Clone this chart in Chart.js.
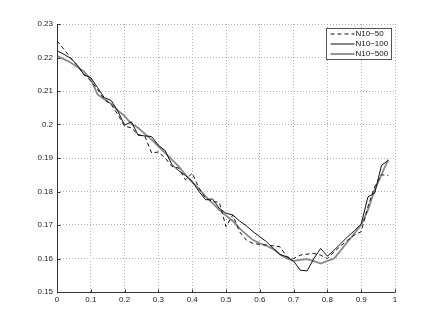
<!DOCTYPE html>
<html>
<head>
<meta charset="utf-8">
<script src="https://cdn.jsdelivr.net/npm/chart.js@4/dist/chart.umd.min.js"></script>
<style>
  html, body { margin: 0; padding: 0; background: #fff; }
  #wrap { width: 436px; height: 328px; }
</style>
</head>
<body>
<div id="wrap"><canvas id="c"></canvas></div>
<script>
// x positions (0 .. 0.98 step 0.02)
const xs = [0,0.02,0.04,0.06,0.08,0.10,0.12,0.14,0.16,0.18,0.20,0.22,0.24,0.26,0.28,0.30,0.32,0.34,0.36,0.38,
  0.40,0.42,0.44,0.46,0.48,0.50,0.52,0.54,0.56,0.58,0.60,0.62,0.64,0.66,0.68,0.70,0.72,0.74,0.76,0.78,
  0.80,0.82,0.84,0.86,0.88,0.90,0.92,0.94,0.96,0.98];

const n50 = [0.2250,0.2225,0.2200,0.2175,0.2150,0.2130,0.2105,0.2075,0.2060,0.2030,0.1995,0.1990,0.1970,0.1965,0.1915,0.1918,0.1900,0.1875,0.1870,0.1835,
  0.1855,0.1810,0.1780,0.1770,0.1768,0.1695,0.1730,0.1680,0.1655,0.1645,0.1642,0.1640,0.1638,0.1635,0.1605,0.1600,0.1610,0.1613,0.1615,0.1610,
  0.1600,0.1620,0.1638,0.1655,0.1670,0.1680,0.1755,0.1815,0.1850,0.1848];

const n100 = [0.2220,0.2210,0.2198,0.2178,0.2148,0.2140,0.2110,0.2080,0.2072,0.2040,0.1998,0.2008,0.1968,0.1966,0.1964,0.1938,0.1922,0.1880,0.1862,0.1848,
  0.1830,0.1800,0.1775,0.1778,0.1750,0.1735,0.1730,0.1712,0.1698,0.1680,0.1665,0.1650,0.1630,0.1612,0.1605,0.1592,0.1565,0.1563,0.1600,0.1630,
  0.1607,0.1625,0.1645,0.1665,0.1683,0.1703,0.1784,0.1795,0.1878,0.1893];

const n500 = [0.2205,0.2195,0.2185,0.2172,0.2158,0.2135,0.2090,0.2075,0.2062,0.2042,0.2025,0.2002,0.1990,0.1972,0.1955,0.1935,0.1915,0.1895,0.1875,0.1850,
  0.1828,0.1808,0.1785,0.1765,0.1745,0.1728,0.1712,0.1690,0.1672,0.1655,0.1645,0.1638,0.1628,0.1612,0.1600,0.1593,0.1596,0.1598,0.1592,0.1585,
  0.1593,0.1600,0.1625,0.1650,0.1675,0.1700,0.1745,0.1805,0.1850,0.1895];

const seriesNames = ['N10\u221250', 'N10\u2212100', 'N10\u2212500'];
const xTicks = [0,0.1,0.2,0.3,0.4,0.5,0.6,0.7,0.8,0.9,1];
const yTicks = [0.15,0.16,0.17,0.18,0.19,0.2,0.21,0.22,0.23];

const pts = arr => arr.map((y,i)=>({x: xs[i], y}));
const fmt = v => String(Number(v.toFixed(2)));
const FONT = {family: '"Liberation Sans", Arial, sans-serif', size: 8};

// inward tick marks, solid left/bottom axis, legend box (matlab look)
const matlabBits = {
  id: 'matlabBits',
  afterDraw(chart){
    const {ctx, chartArea: a, scales} = chart;
    ctx.save();
    ctx.strokeStyle = '#333';
    ctx.lineWidth = 1;
    ctx.setLineDash([]);
    ctx.beginPath();
    const L = Math.round(a.left) + 0.5, B = Math.round(a.bottom) + 0.5;
    ctx.moveTo(L, a.top); ctx.lineTo(L, B); ctx.lineTo(a.right, B);
    xTicks.forEach(v=>{
      const px = Math.round(scales.x.getPixelForValue(v)) + 0.5;
      ctx.moveTo(px, B); ctx.lineTo(px, B - 3);
    });
    yTicks.forEach(v=>{
      const py = Math.round(scales.y.getPixelForValue(v)) + 0.5;
      ctx.moveTo(L, py); ctx.lineTo(L + 3, py);
    });
    ctx.stroke();

    // legend
    const bx = 326.5, by = 28.5, bw = 65, bh = 31;
    ctx.fillStyle = '#fff';
    ctx.fillRect(bx, by, bw, bh);
    ctx.strokeStyle = '#555';
    ctx.strokeRect(bx, by, bw, bh);
    ctx.font = '8px "Liberation Sans", Arial, sans-serif';
    ctx.textBaseline = 'middle';
    chart.data.datasets.forEach((ds, i)=>{
      const y = by + 5.5 + i * 10;
      ctx.beginPath();
      ctx.strokeStyle = ds.borderColor;
      ctx.lineWidth = ds.borderWidth;
      ctx.setLineDash(ds.borderDash || []);
      ctx.moveTo(bx + 4, y); ctx.lineTo(bx + 28, y);
      ctx.stroke();
      ctx.setLineDash([]);
      ctx.fillStyle = '#111';
      ctx.fillText(ds.label, bx + 29, y);
    });
    ctx.restore();
  }
};

new Chart(document.getElementById('c'), {
  type: 'line',
  data: {
    datasets: [
      { label: seriesNames[0], data: pts(n50), borderColor: '#111', borderWidth: 1, borderDash: [4,3] },
      { label: seriesNames[1], data: pts(n100), borderColor: '#111', borderWidth: 1 },
      { label: seriesNames[2], data: pts(n500), borderColor: '#8a8a8a', borderWidth: 1.8 }
    ]
  },
  options: {
    responsive: true,
    maintainAspectRatio: false,
    animation: false,
    elements: { point: { radius: 0 }, line: { tension: 0 } },
    layout: { padding: { top: 24, right: 41, left: 0, bottom: 0 } },
    plugins: { legend: { display: false }, tooltip: { enabled: false } },
    scales: {
      x: {
        type: 'linear', min: 0, max: 1,
        afterBuildTicks: s => { s.ticks = xTicks.map(v=>({value: v})); },
        afterFit: s => { s.height = 36; },
        ticks: { font: FONT, color: '#222', padding: 3, maxRotation: 0, callback: v => fmt(v) },
        grid: { color: '#b0b0b0', drawTicks: false, lineWidth: 1 },
        border: { display: false, dash: [1,2] }
      },
      y: {
        type: 'linear', min: 0.15, max: 0.23,
        afterBuildTicks: s => { s.ticks = yTicks.map(v=>({value: v})); },
        afterFit: s => { s.width = 57; },
        ticks: { font: FONT, color: '#222', padding: 4, callback: v => fmt(v) },
        grid: { color: '#b0b0b0', drawTicks: false, lineWidth: 1 },
        border: { display: false, dash: [1,2] }
      }
    }
  },
  plugins: [matlabBits]
});
</script>
</body>
</html>
